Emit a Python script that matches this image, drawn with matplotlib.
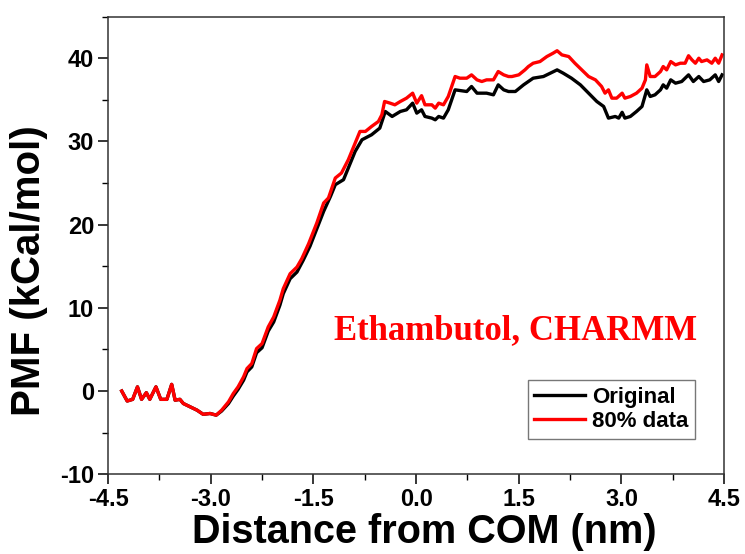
import matplotlib
matplotlib.use("Agg")
import matplotlib.pyplot as plt
from matplotlib.ticker import MultipleLocator

plt.rcParams['axes.unicode_minus'] = False

# PMF profiles (distance in nm, PMF in kCal/mol)
orig_x = [-4.30, -4.22, -4.14, -4.07, -4.01, -3.94, -3.89, -3.80, -3.73, -3.64,
          -3.57, -3.52, -3.45, -3.40, -3.30, -3.20, -3.11, -3.01, -2.92, -2.84,
          -2.74, -2.67, -2.60, -2.52, -2.47, -2.40, -2.33, -2.25, -2.16, -2.08,
          -1.99, -1.94, -1.84, -1.74, -1.65, -1.55, -1.45, -1.35, -1.25, -1.18,
          -1.06, -0.98, -0.89, -0.79, -0.65, -0.53, -0.45, -0.35, -0.23, -0.14,
          -0.05, 0.01, 0.08, 0.13, 0.23, 0.28, 0.33, 0.40, 0.47, 0.57,
          0.74, 0.81, 0.89, 1.03, 1.13, 1.20, 1.28, 1.35, 1.45, 1.57,
          1.71, 1.86, 1.96, 2.06, 2.15, 2.27, 2.40, 2.52, 2.64, 2.74,
          2.81, 2.91, 2.96, 3.01, 3.05, 3.13, 3.22, 3.30, 3.37, 3.42,
          3.49, 3.57, 3.61, 3.66, 3.72, 3.79, 3.88, 3.98, 4.05, 4.13,
          4.20, 4.29, 4.37, 4.42, 4.47]
orig_y = [0.0, -1.2, -1.0, 0.5, -1.0, -0.2, -1.0, 0.5, -1.0, -1.0,
          0.8, -1.1, -1.0, -1.5, -1.9, -2.3, -2.8, -2.7, -2.9, -2.4,
          -1.5, -0.6, 0.2, 1.3, 2.3, 2.9, 4.6, 5.2, 7.2, 8.3,
          10.3, 11.7, 13.5, 14.3, 15.7, 17.4, 19.5, 21.6, 23.4, 24.8,
          25.4, 27.0, 28.8, 30.2, 30.8, 31.6, 33.6, 33.0, 33.6, 33.8,
          34.6, 33.4, 33.8, 33.0, 32.8, 32.6, 33.0, 32.8, 33.8, 36.2,
          36.0, 36.6, 35.8, 35.8, 35.6, 36.8, 36.2, 36.0, 36.0, 36.8,
          37.6, 37.8, 38.2, 38.6, 38.2, 37.6, 36.8, 35.8, 34.8, 34.2,
          32.8, 33.0, 32.8, 33.5, 32.8, 33.0, 33.6, 34.2, 36.2, 35.4,
          35.6, 36.2, 36.8, 36.4, 37.4, 37.0, 37.2, 38.0, 37.2, 37.8,
          37.2, 37.4, 38.0, 37.2, 38.0]

sub_x = [-4.30, -4.22, -4.14, -4.07, -4.01, -3.94, -3.89, -3.80, -3.73, -3.64,
         -3.57, -3.52, -3.45, -3.40, -3.30, -3.20, -3.11, -3.01, -2.92, -2.84,
         -2.74, -2.67, -2.60, -2.52, -2.47, -2.40, -2.33, -2.25, -2.16, -2.08,
         -1.99, -1.94, -1.84, -1.74, -1.67, -1.57, -1.45, -1.35, -1.28, -1.18,
         -1.09, -0.99, -0.89, -0.82, -0.74, -0.65, -0.55, -0.50, -0.46, -0.38,
         -0.31, -0.23, -0.14, -0.05, 0.01, 0.08, 0.13, 0.23, 0.28, 0.33,
         0.40, 0.47, 0.57, 0.64, 0.74, 0.81, 0.89, 0.96, 1.03, 1.13,
         1.20, 1.28, 1.35, 1.40, 1.50, 1.59, 1.64, 1.71, 1.81, 1.91,
         2.00, 2.06, 2.13, 2.23, 2.32, 2.42, 2.52, 2.62, 2.71, 2.76,
         2.81, 2.86, 2.93, 3.01, 3.05, 3.13, 3.22, 3.30, 3.35, 3.37,
         3.42, 3.49, 3.57, 3.61, 3.66, 3.72, 3.79, 3.86, 3.93, 3.98,
         4.03, 4.08, 4.13, 4.17, 4.25, 4.32, 4.37, 4.42, 4.47]
sub_y = [0.0, -1.2, -1.0, 0.5, -1.0, -0.2, -1.0, 0.5, -1.0, -1.0,
         0.8, -1.1, -1.0, -1.5, -1.9, -2.3, -2.8, -2.7, -2.9, -2.3,
         -1.3, -0.3, 0.5, 1.7, 2.7, 3.3, 5.1, 5.7, 7.7, 8.9,
         10.9, 12.3, 14.1, 14.9, 15.9, 17.7, 20.2, 22.6, 23.2, 25.6,
         26.2, 27.8, 29.8, 31.2, 31.2, 31.8, 32.4, 33.2, 34.8, 34.6,
         34.4, 34.8, 35.2, 35.8, 34.6, 35.5, 34.4, 34.4, 34.0, 34.6,
         34.4, 35.4, 37.8, 37.6, 37.6, 38.0, 37.4, 37.2, 37.4, 37.4,
         38.4, 38.0, 37.8, 37.8, 38.0, 38.6, 39.0, 39.4, 39.6, 40.2,
         40.6, 40.9, 40.4, 40.2, 39.4, 38.6, 37.8, 37.4, 36.6, 35.8,
         36.2, 35.2, 35.2, 35.8, 35.2, 35.4, 35.8, 36.4, 37.4, 39.2,
         37.8, 37.8, 38.4, 39.0, 38.6, 39.6, 39.2, 39.4, 39.4, 40.3,
         39.8, 39.4, 40.0, 39.6, 39.8, 39.4, 40.0, 39.4, 40.4]

x_ticks = [-4.5, -3.0, -1.5, 0.0, 1.5, 3.0, 4.5]
y_ticks = [-10, 0, 10, 20, 30, 40]

fig = plt.figure(figsize=(7.45, 5.54), dpi=100)
ax = fig.add_axes([0.145, 0.144, 0.827, 0.826])

ax.plot(orig_x, orig_y, color='black', linewidth=2.4, label='Original')
ax.plot(sub_x, sub_y, color='#ff0000', linewidth=2.4, label='80% data')

ax.set_xlim(-4.5, 4.5)
ax.set_ylim(-10, 45)
ax.set_xticks(x_ticks)
ax.set_xticklabels([f'{t:.1f}' for t in x_ticks])
ax.set_yticks(y_ticks)
ax.xaxis.set_minor_locator(MultipleLocator(0.75))
ax.yaxis.set_minor_locator(MultipleLocator(5))
ax.tick_params(which='major', direction='out', length=7, width=1.1,
               labelsize=17, top=False, right=False, pad=3)
ax.tick_params(which='minor', direction='out', length=4, width=1.0,
               top=False, right=False)
for lab in ax.get_xticklabels() + ax.get_yticklabels():
    lab.set_fontweight('bold')
    lab.set_fontfamily('Liberation Sans')
for sp in ax.spines.values():
    sp.set_linewidth(1.1)
    sp.set_color('#333333')

ax.set_xlabel('Distance from COM (nm)', fontsize=28.5, fontweight='bold',
              family='Liberation Sans')
ax.set_ylabel('PMF (kCal/mol)', fontsize=29, fontweight='bold',
              family='Liberation Sans')
ax.xaxis.set_label_coords(0.513, -0.085)
ax.yaxis.set_label_coords(-0.097, 0.445)

ax.text(4.1, 7.3, 'Ethambutol, CHARMM', color='#ff0000', fontsize=25,
        fontweight='bold', family='Liberation Serif', ha='right', va='center')

leg = ax.legend(loc='lower right', bbox_to_anchor=(0.971, 0.053),
                prop={'family': 'Liberation Sans', 'weight': 'bold', 'size': 16},
                fancybox=False, framealpha=1, edgecolor='#777777',
                handlelength=2.3, handletextpad=0.3, borderpad=0.3,
                labelspacing=0.15)
leg.get_frame().set_linewidth(1.0)

fig.savefig('out.png', dpi=100)
